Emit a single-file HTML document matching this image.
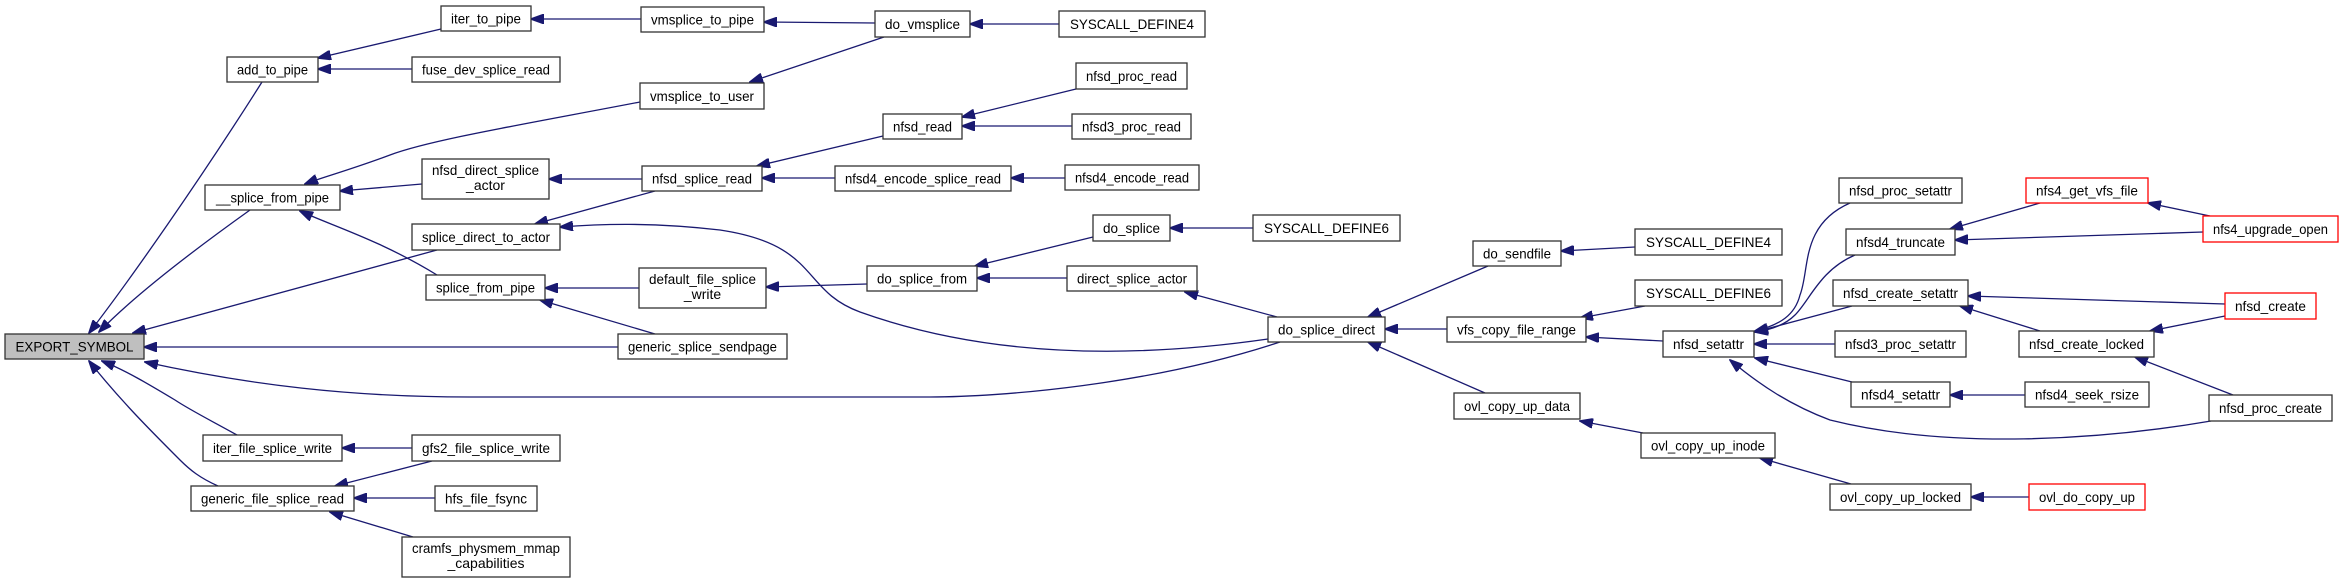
<!DOCTYPE html>
<html><head><meta charset="utf-8"><style>
html,body{margin:0;padding:0;background:#fff;}
svg{display:block;}
text{font-family:"Liberation Sans",sans-serif;font-size:14px;fill:#000;text-anchor:middle;}
rect{fill:#fff;stroke:#333;stroke-width:1.3;}
rect.r{stroke:#f00;}
rect.g{fill:#bfbfbf;}
path{fill:none;stroke:#191970;stroke-width:1.3;}
</style></head><body>
<svg width="2340" height="583" viewBox="0 0 2340 583" xmlns="http://www.w3.org/2000/svg">
<defs><marker id="a" markerWidth="14" markerHeight="10" refX="13" refY="5" orient="auto" markerUnits="userSpaceOnUse"><polygon points="0,0 14,5 0,10" fill="#191970" stroke="#191970"/></marker></defs>
<g marker-end="url(#a)">
<path d="M441,29 L318,58"/>
<path d="M412,69 L318,69"/>
<path d="M641,19 L531,19"/>
<path d="M875,23 L764,22"/>
<path d="M884,37 L750,82"/>
<path d="M1059,24 L970,24"/>
<path d="M262,82 C200,180 130,280 89,333"/>
<path d="M250,210 C180,260 130,300 99,332"/>
<path d="M640,102 C520,125 430,140 390,155 C350,170 320,178 305,184"/>
<path d="M422,184 L340,191"/>
<path d="M437,275 C380,240 330,225 300,211"/>
<path d="M642,179 L549,179"/>
<path d="M655,191 L535,224"/>
<path d="M883,136 L757,166"/>
<path d="M835,178 L762,178"/>
<path d="M1076,89 L962,117"/>
<path d="M1072,126 L962,126"/>
<path d="M1065,178 L1011,178"/>
<path d="M437,250 L133,333"/>
<path d="M1268,339 C1150,356 1000,362 860,312 C800,290 820,245 720,230 C650,222 600,224 560,227"/>
<path d="M618,347 L144,347"/>
<path d="M655,334 L540,300"/>
<path d="M639,288 L545,288"/>
<path d="M867,284 L766,287"/>
<path d="M1093,237 L975,266"/>
<path d="M1067,278 L977,278"/>
<path d="M1253,228 L1170,228"/>
<path d="M1277,317 L1185,292"/>
<path d="M1280,342 C1150,385 1000,397 930,397 L470,397 C350,397 250,385 145,362"/>
<path d="M237,435 C210,420 190,410 175,400 C150,385 125,370 102,361"/>
<path d="M218,486 C200,478 190,470 180,460 C150,430 120,400 89,361"/>
<path d="M412,448 L342,448"/>
<path d="M432,461 L335,486"/>
<path d="M435,498 L354,498"/>
<path d="M413,537 L330,512"/>
<path d="M1488,266 L1368,317"/>
<path d="M1447,329 L1385,329"/>
<path d="M1485,393 L1368,342"/>
<path d="M1635,247 L1561,251"/>
<path d="M1645,306 L1580,318"/>
<path d="M1663,341 L1586,337"/>
<path d="M1643,433 L1580,421"/>
<path d="M1851,484 L1760,458"/>
<path d="M2029,497 L1971,497"/>
<path d="M1850,203 C1800,225 1810,270 1800,295 C1795,315 1780,325 1755,331"/>
<path d="M1855,255 C1820,270 1810,300 1795,315 C1785,325 1770,330 1755,332"/>
<path d="M1852,306 L1755,332"/>
<path d="M1835,344 L1754,344"/>
<path d="M1852,382 L1755,358"/>
<path d="M2211,421 C2100,440 1950,450 1830,420 C1790,405 1760,385 1730,360"/>
<path d="M2040,203 L1950,229"/>
<path d="M2203,232 L1955,240"/>
<path d="M2210,216 L2148,203"/>
<path d="M2225,304 L1968,296"/>
<path d="M2040,331 L1960,306"/>
<path d="M2225,316 L2150,331"/>
<path d="M2233,395 L2135,357"/>
<path d="M2025,395 L1950,395"/>
</g>
<rect class="g" x="5" y="334" width="139" height="25"/><text x="74.5" y="351.5" textLength="118" lengthAdjust="spacingAndGlyphs">EXPORT_SYMBOL</text>
<rect x="227" y="57" width="91" height="25"/><text x="272.5" y="74.5" textLength="71" lengthAdjust="spacingAndGlyphs">add_to_pipe</text>
<rect x="441" y="6" width="90" height="25"/><text x="486" y="23.5" textLength="70" lengthAdjust="spacingAndGlyphs">iter_to_pipe</text>
<rect x="412" y="57" width="148" height="25"/><text x="486" y="74.5" textLength="128" lengthAdjust="spacingAndGlyphs">fuse_dev_splice_read</text>
<rect x="641" y="7" width="123" height="25"/><text x="702.5" y="24.5" textLength="103" lengthAdjust="spacingAndGlyphs">vmsplice_to_pipe</text>
<rect x="875" y="11" width="95" height="26"/><text x="922.5" y="29" textLength="75" lengthAdjust="spacingAndGlyphs">do_vmsplice</text>
<rect x="1059" y="11" width="146" height="26"/><text x="1132" y="29" textLength="124" lengthAdjust="spacingAndGlyphs">SYSCALL_DEFINE4</text>
<rect x="640" y="83" width="124" height="26"/><text x="702" y="101" textLength="104" lengthAdjust="spacingAndGlyphs">vmsplice_to_user</text>
<rect x="205" y="185" width="135" height="25"/><text x="272.5" y="202.5" textLength="113" lengthAdjust="spacingAndGlyphs">__splice_from_pipe</text>
<rect x="422" y="159" width="127" height="40"/><text x="485.5" y="175" textLength="107" lengthAdjust="spacingAndGlyphs">nfsd_direct_splice</text><text x="485.5" y="190">_actor</text>
<rect x="642" y="166" width="120" height="25"/><text x="702" y="183.5" textLength="100" lengthAdjust="spacingAndGlyphs">nfsd_splice_read</text>
<rect x="883" y="114" width="79" height="25"/><text x="922.5" y="131.5" textLength="59" lengthAdjust="spacingAndGlyphs">nfsd_read</text>
<rect x="1076" y="63" width="111" height="26"/><text x="1131.5" y="81" textLength="91" lengthAdjust="spacingAndGlyphs">nfsd_proc_read</text>
<rect x="1072" y="114" width="119" height="25"/><text x="1131.5" y="131.5" textLength="99" lengthAdjust="spacingAndGlyphs">nfsd3_proc_read</text>
<rect x="835" y="166" width="176" height="25"/><text x="923" y="183.5" textLength="156" lengthAdjust="spacingAndGlyphs">nfsd4_encode_splice_read</text>
<rect x="1065" y="165" width="134" height="25"/><text x="1132" y="182.5" textLength="114" lengthAdjust="spacingAndGlyphs">nfsd4_encode_read</text>
<rect x="412" y="224" width="148" height="26"/><text x="486" y="242" textLength="128" lengthAdjust="spacingAndGlyphs">splice_direct_to_actor</text>
<rect x="426" y="275" width="119" height="25"/><text x="485.5" y="292.5" textLength="99" lengthAdjust="spacingAndGlyphs">splice_from_pipe</text>
<rect x="639" y="268" width="127" height="40"/><text x="702.5" y="284" textLength="107" lengthAdjust="spacingAndGlyphs">default_file_splice</text><text x="702.5" y="299">_write</text>
<rect x="1093" y="215" width="77" height="26"/><text x="1131.5" y="233" textLength="57" lengthAdjust="spacingAndGlyphs">do_splice</text>
<rect x="1253" y="215" width="147" height="26"/><text x="1326.5" y="233" textLength="125" lengthAdjust="spacingAndGlyphs">SYSCALL_DEFINE6</text>
<rect x="867" y="266" width="110" height="25"/><text x="922" y="283.5" textLength="90" lengthAdjust="spacingAndGlyphs">do_splice_from</text>
<rect x="1067" y="266" width="130" height="25"/><text x="1132" y="283.5" textLength="110" lengthAdjust="spacingAndGlyphs">direct_splice_actor</text>
<rect x="1473" y="241" width="88" height="25"/><text x="1517" y="258.5" textLength="68" lengthAdjust="spacingAndGlyphs">do_sendfile</text>
<rect x="1268" y="317" width="117" height="25"/><text x="1326.5" y="334.5" textLength="97" lengthAdjust="spacingAndGlyphs">do_splice_direct</text>
<rect x="618" y="334" width="169" height="25"/><text x="702.5" y="351.5" textLength="149" lengthAdjust="spacingAndGlyphs">generic_splice_sendpage</text>
<rect x="1447" y="317" width="139" height="25"/><text x="1516.5" y="334.5" textLength="119" lengthAdjust="spacingAndGlyphs">vfs_copy_file_range</text>
<rect x="1454" y="393" width="126" height="26"/><text x="1517" y="411" textLength="106" lengthAdjust="spacingAndGlyphs">ovl_copy_up_data</text>
<rect x="203" y="435" width="139" height="26"/><text x="272.5" y="453" textLength="119" lengthAdjust="spacingAndGlyphs">iter_file_splice_write</text>
<rect x="412" y="435" width="148" height="26"/><text x="486" y="453" textLength="128" lengthAdjust="spacingAndGlyphs">gfs2_file_splice_write</text>
<rect x="191" y="486" width="163" height="25"/><text x="272.5" y="503.5" textLength="143" lengthAdjust="spacingAndGlyphs">generic_file_splice_read</text>
<rect x="435" y="486" width="102" height="25"/><text x="486" y="503.5" textLength="82" lengthAdjust="spacingAndGlyphs">hfs_file_fsync</text>
<rect x="402" y="537" width="168" height="40"/><text x="486" y="553" textLength="148" lengthAdjust="spacingAndGlyphs">cramfs_physmem_mmap</text><text x="486" y="568">_capabilities</text>
<rect x="1635" y="229" width="147" height="26"/><text x="1708.5" y="247" textLength="125" lengthAdjust="spacingAndGlyphs">SYSCALL_DEFINE4</text>
<rect x="1635" y="280" width="147" height="26"/><text x="1708.5" y="298" textLength="125" lengthAdjust="spacingAndGlyphs">SYSCALL_DEFINE6</text>
<rect x="1663" y="331" width="91" height="26"/><text x="1708.5" y="349" textLength="71" lengthAdjust="spacingAndGlyphs">nfsd_setattr</text>
<rect x="1641" y="433" width="134" height="25"/><text x="1708" y="450.5" textLength="114" lengthAdjust="spacingAndGlyphs">ovl_copy_up_inode</text>
<rect x="1830" y="484" width="141" height="26"/><text x="1900.5" y="502" textLength="121" lengthAdjust="spacingAndGlyphs">ovl_copy_up_locked</text>
<rect class="r" x="2029" y="484" width="116" height="26"/><text x="2087" y="502" textLength="96" lengthAdjust="spacingAndGlyphs">ovl_do_copy_up</text>
<rect x="1839" y="178" width="123" height="25"/><text x="1900.5" y="195.5" textLength="103" lengthAdjust="spacingAndGlyphs">nfsd_proc_setattr</text>
<rect x="1846" y="229" width="109" height="26"/><text x="1900.5" y="247" textLength="89" lengthAdjust="spacingAndGlyphs">nfsd4_truncate</text>
<rect x="1833" y="280" width="135" height="26"/><text x="1900.5" y="298" textLength="115" lengthAdjust="spacingAndGlyphs">nfsd_create_setattr</text>
<rect x="1835" y="331" width="131" height="26"/><text x="1900.5" y="349" textLength="111" lengthAdjust="spacingAndGlyphs">nfsd3_proc_setattr</text>
<rect x="1851" y="382" width="99" height="25"/><text x="1900.5" y="399.5" textLength="79" lengthAdjust="spacingAndGlyphs">nfsd4_setattr</text>
<rect class="r" x="2026" y="178" width="122" height="25"/><text x="2087" y="195.5" textLength="102" lengthAdjust="spacingAndGlyphs">nfs4_get_vfs_file</text>
<rect class="r" x="2203" y="216" width="135" height="26"/><text x="2270.5" y="234" textLength="115" lengthAdjust="spacingAndGlyphs">nfs4_upgrade_open</text>
<rect class="r" x="2225" y="293" width="91" height="26"/><text x="2270.5" y="311" textLength="71" lengthAdjust="spacingAndGlyphs">nfsd_create</text>
<rect x="2019" y="331" width="135" height="26"/><text x="2086.5" y="349" textLength="115" lengthAdjust="spacingAndGlyphs">nfsd_create_locked</text>
<rect x="2025" y="382" width="124" height="25"/><text x="2087" y="399.5" textLength="104" lengthAdjust="spacingAndGlyphs">nfsd4_seek_rsize</text>
<rect x="2209" y="395" width="123" height="26"/><text x="2270.5" y="413" textLength="103" lengthAdjust="spacingAndGlyphs">nfsd_proc_create</text>
</svg>
</body></html>
